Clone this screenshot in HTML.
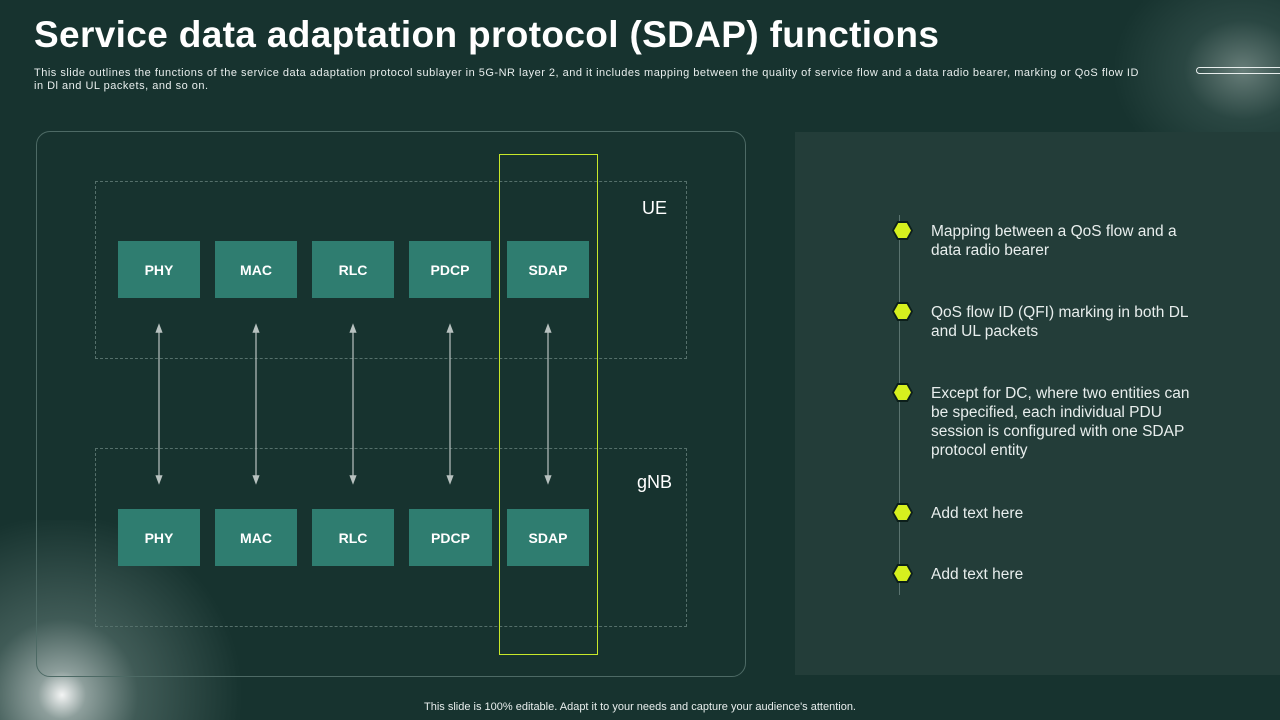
<!DOCTYPE html>
<html><head><meta charset="utf-8"><style>
*{margin:0;padding:0;box-sizing:border-box}
html{width:1280px;height:720px;overflow:hidden}
body{width:1280px;height:720px;overflow:hidden;background:#17332f;font-family:"Liberation Sans",sans-serif;position:relative;color:#fff}
.a{position:absolute}
.glow1{left:0;top:520px;width:300px;height:200px;background:radial-gradient(circle 200px at 62px 175px,rgba(255,255,255,.95) 0%,rgba(220,230,228,.6) 12%,rgba(140,165,160,.35) 38%,rgba(23,51,47,0) 90%)}
.glow2{left:1100px;top:0;width:180px;height:180px;background:radial-gradient(ellipse 130px 110px at 143px 70px,rgba(200,215,210,.45) 0%,rgba(120,150,145,.2) 45%,rgba(23,51,47,0) 100%)}
h1{position:absolute;left:34px;top:14px;font-size:37px;font-weight:bold;letter-spacing:0.35px;white-space:nowrap}
.sub{left:34px;top:67px;font-size:11px;line-height:13px;color:#e8eeed;letter-spacing:.5px;white-space:nowrap}
.box{position:absolute;width:82px;height:57px;background:#2f7d70;color:#fff;font-weight:bold;font-size:14px;display:flex;align-items:center;justify-content:center}
.txt{position:absolute;left:931px;font-size:15.5px;line-height:19px;color:#e8eeed;width:268px}
.hexo{position:absolute;left:892px;width:21px;height:19px;background:#0c1f1b;clip-path:polygon(25% 0,75% 0,100% 50%,75% 100%,25% 100%,0 50%)}
.hex{position:absolute;left:2px;top:2px;width:17px;height:15px;background:#d6f01e;clip-path:polygon(25% 0,75% 0,100% 50%,75% 100%,25% 100%,0 50%)}
</style></head><body>
<div class="a glow2"></div><div class="a glow1"></div>
<h1>Service data adaptation protocol (SDAP) functions</h1>
<div class="a sub">This slide outlines the functions of the service data adaptation protocol sublayer in 5G-NR layer 2, and it includes mapping between the quality of service flow and a data radio bearer, marking or QoS flow ID<br>in Dl and UL packets, and so on.</div>
<div class="a" style="left:1196px;top:67px;width:84px;height:7px;border:1.5px solid #e8eeed;border-right:none;border-radius:4px 0 0 4px"></div>
<div class="a" style="left:36px;top:131px;width:710px;height:546px;border:1px solid #4d6a65;border-radius:14px"></div>
<div class="a" style="left:95px;top:181px;width:592px;height:178px;border:1px dashed #55706b"></div>
<div class="a" style="left:95px;top:448px;width:592px;height:179px;border:1px dashed #55706b"></div>
<div class="a" style="left:499px;top:154px;width:99px;height:501px;border:1.5px solid #c7e82a"></div>
<div class="a" style="left:642px;top:198px;font-size:18px">UE</div>
<div class="a" style="left:637px;top:472px;font-size:18px">gNB</div>
<div class="box" style="left:118px;top:241px">PHY</div>
<div class="box" style="left:215px;top:241px">MAC</div>
<div class="box" style="left:312px;top:241px">RLC</div>
<div class="box" style="left:409px;top:241px">PDCP</div>
<div class="box" style="left:507px;top:241px">SDAP</div>
<div class="box" style="left:118px;top:509px">PHY</div>
<div class="box" style="left:215px;top:509px">MAC</div>
<div class="box" style="left:312px;top:509px">RLC</div>
<div class="box" style="left:409px;top:509px;width:83px">PDCP</div>
<div class="box" style="left:507px;top:509px">SDAP</div>
<svg class="a" style="left:0;top:0" width="1280" height="720">
<defs><marker id="m" markerWidth="8" markerHeight="8" refX="4" refY="4" orient="auto-start-reverse"><path d="M0,1 L8,4 L0,7z" fill="#b8c2c0"/></marker></defs>
<g stroke="#b8c2c0" stroke-width="1.2" marker-start="url(#m)" marker-end="url(#m)">
<line x1="159" y1="328" x2="159" y2="480"/><line x1="256" y1="328" x2="256" y2="480"/><line x1="353" y1="328" x2="353" y2="480"/><line x1="450" y1="328" x2="450" y2="480"/><line x1="548" y1="328" x2="548" y2="480"/>
</g></svg>
<div class="a" style="left:795px;top:132px;width:485px;height:543px;background:#233d39"></div>
<div class="a" style="left:899px;top:215px;width:1px;height:380px;background:#5a736f"></div>
<div class="hexo" style="top:221px"><div class="hex"></div></div>
<div class="hexo" style="top:302px"><div class="hex"></div></div>
<div class="hexo" style="top:383px"><div class="hex"></div></div>
<div class="hexo" style="top:503px"><div class="hex"></div></div>
<div class="hexo" style="top:564px"><div class="hex"></div></div>
<div class="txt" style="top:222px">Mapping between a QoS flow and a data radio bearer</div>
<div class="txt" style="top:303px">QoS flow ID (QFI) marking in both DL and UL packets</div>
<div class="txt" style="top:384px">Except for DC, where two entities can be specified, each individual PDU session is configured with one SDAP protocol entity</div>
<div class="txt" style="top:504px">Add text here</div>
<div class="txt" style="top:565px">Add text here</div>
<div class="a" style="left:0;top:701px;width:1280px;text-align:center;font-size:11px;line-height:13px;color:#e8eeed">This slide is 100% editable. Adapt it to your needs and capture your audience's attention.</div>
</body></html>
